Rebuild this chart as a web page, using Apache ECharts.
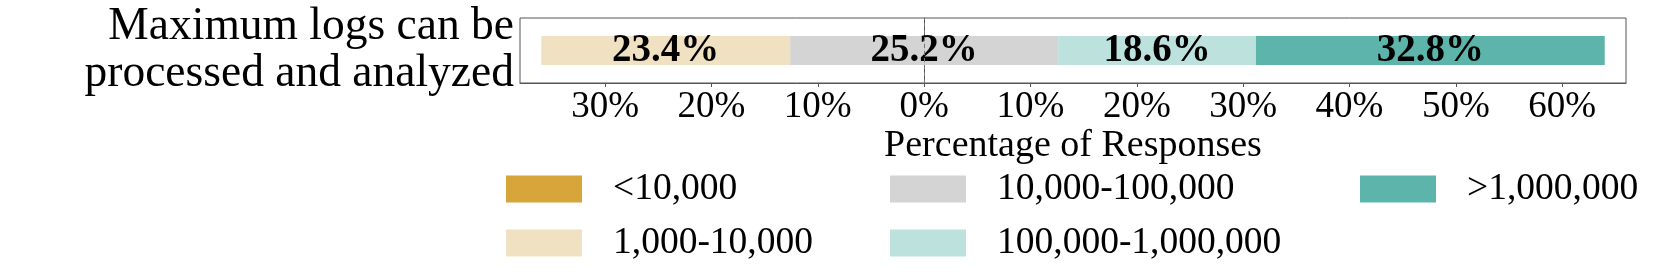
<!DOCTYPE html>
<html>
<head>
<meta charset="utf-8">
<script src="https://cdn.jsdelivr.net/npm/echarts@6/dist/echarts.min.js"></script>
<style>html,body{margin:0;padding:0;background:#fff}#c{width:1661px;height:280px}</style>
</head>
<body>
<div id="c"></div>
<script>
const categories = ['Maximum logs can be\nprocessed and analyzed'];
const seriesNames = ['<10,000', '1,000-10,000', '10,000-100,000', '100,000-1,000,000', '>1,000,000'];
const seriesValues = [0.0, 23.4, 25.2, 18.6, 32.8];
const seriesColors = ['#D8A53B', '#F1E1C3', '#D4D4D4', '#BDE2DE', '#5CB4AA'];
const tickValues = [-30, -20, -10, 0, 10, 20, 30, 40, 50, 60];
const axisTitle = 'Percentage of Responses';

const FONT = '"Liberation Serif", "Times New Roman", serif';
const labelStyle = { show: true, color: '#000', fontFamily: FONT, fontWeight: 'bold', fontSize: 39 };

const neutralHalf = seriesValues[2] / 2;
const common = { type: 'bar', barWidth: 29, barGap: '-100%' };
const series = [
  Object.assign({}, common, { name: seriesNames[2], stack: 'neg', data: [-neutralHalf], itemStyle: { color: seriesColors[2] }, label: { show: false } }),
  Object.assign({}, common, { name: seriesNames[1], stack: 'neg', data: [-seriesValues[1]], itemStyle: { color: seriesColors[1] },
    label: Object.assign({}, labelStyle, { position: 'inside', formatter: () => seriesValues[1].toFixed(1) + '%' }) }),
  Object.assign({}, common, { name: seriesNames[0], stack: 'neg', data: [-seriesValues[0]], itemStyle: { color: seriesColors[0] }, label: { show: false } }),
  Object.assign({}, common, { name: seriesNames[2], stack: 'pos', data: [neutralHalf], itemStyle: { color: seriesColors[2] },
    label: Object.assign({}, labelStyle, { position: [0, '50%'], align: 'center', verticalAlign: 'middle', formatter: () => seriesValues[2].toFixed(1) + '%' }),
    markLine: { silent: true, symbol: 'none', label: { show: false }, lineStyle: { color: '#777', type: [4, 3], width: 1 }, data: [{ xAxis: 0 }] } }),
  Object.assign({}, common, { name: seriesNames[3], stack: 'pos', data: [seriesValues[3]], itemStyle: { color: seriesColors[3] },
    label: Object.assign({}, labelStyle, { position: 'inside', formatter: () => seriesValues[3].toFixed(1) + '%' }) }),
  Object.assign({}, common, { name: seriesNames[4], stack: 'pos', data: [seriesValues[4]], itemStyle: { color: seriesColors[4] },
    label: Object.assign({}, labelStyle, { position: 'inside', formatter: () => seriesValues[4].toFixed(1) + '%' }) })
];

const legendPos = [
  { left: 506, top: 170 }, { left: 506, top: 224 },
  { left: 890, top: 170 }, { left: 890, top: 224 },
  { left: 1360, top: 170 }
];
const legends = seriesNames.map((n, i) => ({
  data: [{ name: n, itemStyle: { color: seriesColors[i] } }],
  left: legendPos[i].left, top: legendPos[i].top,
  orient: 'horizontal', padding: 0,
  itemWidth: 76, itemHeight: 27, icon: 'rect',
  selectedMode: false,
  textStyle: { fontFamily: FONT, fontSize: 37.5, color: '#000', padding: [0, 0, 0, 26] }
}));

const chart = echarts.init(document.getElementById('c'), null, { renderer: 'canvas' });
chart.setOption({
  animation: false,
  backgroundColor: '#fff',
  legend: legends,
  grid: { left: 520, right: 35, top: 18, height: 65, show: true, borderColor: '#555', borderWidth: 1, backgroundColor: 'transparent' },
  xAxis: {
    type: 'value', min: -38, max: 66,
    name: axisTitle, nameLocation: 'middle', nameGap: 43,
    nameTextStyle: { fontFamily: FONT, fontSize: 38, color: '#000' },
    axisLine: { show: true, lineStyle: { color: '#555' } },
    axisTick: { show: true, length: 4, lineStyle: { color: '#555' }, customValues: tickValues },
    splitLine: { show: false },
    axisLabel: { fontFamily: FONT, fontSize: 37, color: '#000', margin: 6, customValues: tickValues,
      formatter: v => Math.abs(v) + '%' }
  },
  yAxis: {
    type: 'category', data: categories,
    axisLine: { show: true, lineStyle: { color: '#555' } },
    axisTick: { show: true, length: 4, alignWithLabel: true, lineStyle: { color: '#555' } },
    axisLabel: { fontFamily: FONT, fontSize: 45.5, lineHeight: 47, color: '#000', margin: 6, align: 'right' }
  },
  series: series
});
</script>
</body>
</html>
